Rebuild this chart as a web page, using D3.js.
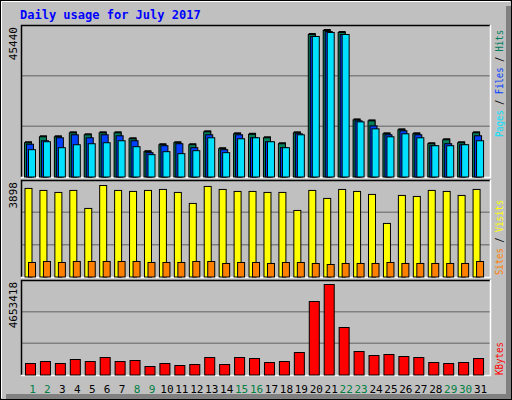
<!DOCTYPE html>
<html>
<head>
<meta charset="utf-8">
<script src="https://cdn.jsdelivr.net/npm/d3@7"></script>
<style>
  body { margin: 0; background: #fff; }
  svg text { font-family: "DejaVu Sans Mono", monospace; }
</style>
</head>
<body>
<svg id="chart" width="512" height="400"></svg>
<script>
const days = d3.range(1, 32);
const weekend = [1, 2, 8, 9, 15, 16, 22, 23, 29, 30];

const hits = [10745,12587,12587,13815,13201,13815,13815,11973,7982,10131,10745,10131,14122,8903,13508,13355,12280,10438,13815,44208,45440,44822,17806,17499,13508,14736,13508,10438,11666,10745,13815];
const files = [10285,11359,12280,13201,12280,13201,12894,11359,7675,9824,10438,9210,13201,8596,13201,12280,11052,9210,13508,43594,45129,44208,17499,15964,13201,14429,13201,9824,10438,10131,12894];
const pages = [8596,11052,9210,10131,10438,10745,11359,9517,7061,7982,7368,8289,12280,7675,11973,12280,11052,9210,13201,43594,44822,44208,17192,15043,12587,13508,12280,9824,9824,10131,11359];
const visits = [3774,3689,3604,3689,2926,3898,3689,3646,3689,3731,3604,3138,3858,3731,3646,3646,3604,3604,2841,3689,3350,3731,3646,3519,2290,3477,3434,3689,3646,3477,3731];
const sites = [636,678,636,678,678,678,678,678,636,636,636,678,678,594,636,636,594,636,636,594,551,594,594,594,636,594,594,594,594,594,678];
const kbytes = [613632,715904,613632,818176,715904,920448,715904,767040,460224,613632,511360,562496,920448,562496,920448,869312,664768,715904,1176128,3784064,4653418,2454528,1227264,1022720,1073856,971584,920448,664768,613632,664768,869312];

const svg = d3.select("#chart");
const L = 21, R = 490;

// frame
svg.append("rect").attr("x", 0.5).attr("y", 0.5).attr("width", 511).attr("height", 399)
  .attr("fill", "#c0c0c0").attr("stroke", "#000");
svg.append("rect").attr("x", 506).attr("y", 6).attr("width", 5).attr("height", 393).attr("fill", "#808080");
svg.append("rect").attr("x", 6).attr("y", 394).attr("width", 505).attr("height", 5).attr("fill", "#808080");
svg.append("path").attr("d", "M1.5,398V1.5H510").attr("stroke", "#fff").attr("fill", "none");

svg.append("text").attr("x", 20).attr("y", 19).attr("fill", "#0000ff")
  .attr("font-size", 12).attr("font-weight", "bold").text("Daily usage for July 2017");

const x = d3.scaleBand().domain(days).range([L + 3, R - 3]).paddingInner(0);

function panel(top, bottom, yTopVal, maxLabel) {
  svg.append("rect").attr("x", L).attr("y", top).attr("width", R - L).attr("height", bottom - top)
    .attr("fill", "#c0c0c0");
  const y = d3.scaleLinear().domain([0, yTopVal]).range([bottom, top]);
  [1, 2].forEach(i => {
    const gy = bottom - (bottom - top) * i / 3;
    svg.append("line").attr("x1", L).attr("x2", R).attr("y1", gy).attr("y2", gy)
      .attr("stroke", "#808080").attr("stroke-width", 1.5);
  });
  svg.append("path").attr("d", `M${L + 0.5},${bottom}V${top + 0.5}H${R}`).attr("stroke", "#000").attr("fill", "none").attr("stroke-width", 1.5);
  svg.append("path").attr("d", `M${R + 0.5},${top}V${bottom + 0.5}H${L}`).attr("stroke", "#fff").attr("fill", "none").attr("stroke-width", 1.5);
  svg.append("text").attr("transform", `translate(17,${top + 2}) rotate(-90)`)
    .attr("text-anchor", "end").attr("font-size", 11).attr("fill", "#000").text(maxLabel);
  return y;
}

function bars(y, vals, color, off, w, bottom, shadow) {
  const g = svg.append("g");
  if (shadow) {
    g.selectAll("rect.s").data(vals).join("rect")
      .attr("x", (d, i) => x(i + 1) + off + 1).attr("y", d => y(d) - 1)
      .attr("width", w).attr("height", d => bottom - y(d) + 1).attr("fill", "#000");
  }
  g.selectAll("rect.b").data(vals).join("rect")
    .attr("x", (d, i) => x(i + 1) + off + 0.5).attr("y", d => y(d) + 0.5)
    .attr("width", w).attr("height", d => bottom - y(d) - 0.5)
    .attr("fill", color).attr("stroke", "#000").attr("stroke-width", 1);
}

function legend(xp, yBottom, len, parts) {
  const t = svg.append("text").attr("transform", `translate(${xp},${yBottom}) rotate(-90)`)
    .attr("font-size", 10).attr("textLength", len).attr("lengthAdjust", "spacingAndGlyphs");
  parts.forEach(p => t.append("tspan").attr("fill", p[1]).text(p[0]));
}

// top panel
const y1 = panel(25, 177, 45440 * 152 / 147, "45440");
bars(y1, hits, "#00805c", 0, 7, 177, true);
bars(y1, files, "#0040ff", 2, 7, 177, false);
bars(y1, pages, "#00e0ff", 4, 7, 177, false);
legend(503, 137, 107, [["Pages", "#00e0ff"], [" / ", "#000"], ["Files", "#0040ff"], [" / ", "#000"], ["Hits", "#00805c"]]);

// middle panel
const y2 = panel(180, 277, 3898 * 97 / 92, "3898");
bars(y2, visits, "#ffff00", 0.5, 7, 277, false);
bars(y2, sites, "#ff8000", 4, 7, 277, false);
legend(503, 275, 75, [["Sites", "#ff8000"], [" / ", "#000"], ["Visits", "#ffff00"]]);

// bottom panel
const y3 = panel(280, 375, 4653418 * 95 / 91, "4653418");
bars(y3, kbytes, "#ff0000", 1, 10, 375, false);
legend(503, 375, 33, [["KBytes", "#ff0000"]]);

// day labels
svg.append("g").selectAll("text").data(days).join("text")
  .attr("x", d => x(d) + 8.5).attr("y", 393).attr("text-anchor", "middle")
  .attr("font-size", 11)
  .attr("fill", d => weekend.includes(d) ? "#008040" : "#000")
  .text(d => d);
</script>
</body>
</html>
